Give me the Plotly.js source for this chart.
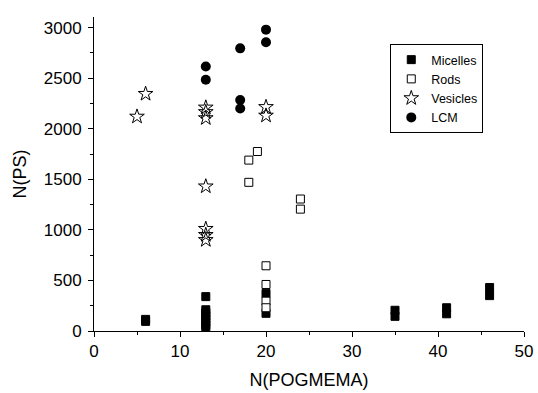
<!DOCTYPE html>
<html>
<head>
<meta charset="utf-8">
<script src="https://cdn.plot.ly/plotly-3.0.1.min.js"></script>
<style>html,body{margin:0;padding:0;background:#fff;}#chart{width:538px;height:393px;}</style>
</head>
<body>
<div id="chart"></div>
<script>
// Micelles
const micellesX = [6, 6, 13, 13, 13, 13, 13, 13, 13, 13, 20, 20, 35, 35, 41, 41, 46, 46];
const micellesY = [95, 115, 30, 60, 90, 120, 150, 180, 210, 340, 370, 175, 145, 205, 170, 230, 350, 430];
// Rods
const rodsX = [18, 18, 19, 24, 24, 20, 20, 20, 20];
const rodsY = [1690, 1470, 1775, 1305, 1205, 645, 460, 295, 230];
// Vesicles
const vesiclesX = [5, 6, 13, 13, 13, 13, 13, 13, 13, 20, 20];
const vesiclesY = [2120, 2345, 2210, 2165, 2105, 1430, 1010, 950, 900, 2215, 2130];
// LCM
const lcmX = [13, 13, 17, 17, 17, 20, 20];
const lcmY = [2615, 2485, 2795, 2285, 2200, 2980, 2855];

const traces = [
  {x: micellesX, y: micellesY, name: 'Micelles', type: 'scatter', mode: 'markers',
   marker: {symbol: 'square', size: 8, color: '#000', line: {color: '#000', width: 1}}},
  {x: rodsX, y: rodsY, name: 'Rods', type: 'scatter', mode: 'markers',
   marker: {symbol: 'square', size: 8, color: '#fff', line: {color: '#000', width: 1}}},
  {x: vesiclesX, y: vesiclesY, name: 'Vesicles', type: 'scatter', mode: 'markers',
   marker: {symbol: 'star-open', size: 11, color: '#000', line: {color: '#000', width: 1}}},
  {x: lcmX, y: lcmY, name: 'LCM', type: 'scatter', mode: 'markers',
   marker: {symbol: 'circle', size: 10, color: '#000', line: {color: '#000', width: 0}}}
];

const FAM = 'Liberation Sans, Arial, sans-serif';
const tickFont = {family: FAM, size: 17, color: '#000'};
const titleFont = {family: FAM, size: 18, color: '#000'};

const layout = {
  width: 538, height: 393,
  margin: {l: 94, r: 14, t: 17, b: 62},
  paper_bgcolor: '#fff', plot_bgcolor: '#fff',
  font: tickFont,
  showlegend: true,
  xaxis: {
    range: [0, 50], dtick: 10, tick0: 0,
    showgrid: false, zeroline: false,
    showline: true, linecolor: '#000', linewidth: 1,
    ticks: 'outside', ticklen: 5, tickcolor: '#000', tickwidth: 1,
    minor: {dtick: 5, ticks: 'outside', ticklen: 3, tickcolor: '#000', tickwidth: 1, showgrid: false},
    tickfont: tickFont,
    title: {text: 'N(POGMEMA)', font: titleFont, standoff: 12}
  },
  yaxis: {
    range: [0, 3105], dtick: 500, tick0: 0,
    showgrid: false, zeroline: false,
    showline: true, linecolor: '#000', linewidth: 1,
    ticks: 'outside', ticklen: 5, tickcolor: '#000', tickwidth: 1,
    ticklabelstandoff: 3,
    minor: {dtick: 250, ticks: 'outside', ticklen: 3, tickcolor: '#000', tickwidth: 1, showgrid: false},
    tickfont: tickFont,
    title: {text: 'N(PS)', font: titleFont, standoff: 12}
  },
  legend: {
    x: 0.689, y: 0.914, xanchor: 'left', yanchor: 'top',
    bordercolor: '#000', borderwidth: 1, bgcolor: '#fff',
    font: {family: FAM, size: 12.5, color: '#000'},
    tracegroupgap: 0
  }
};

Plotly.newPlot('chart', traces, layout, {displayModeBar: false, staticPlot: true});
</script>
</body>
</html>
